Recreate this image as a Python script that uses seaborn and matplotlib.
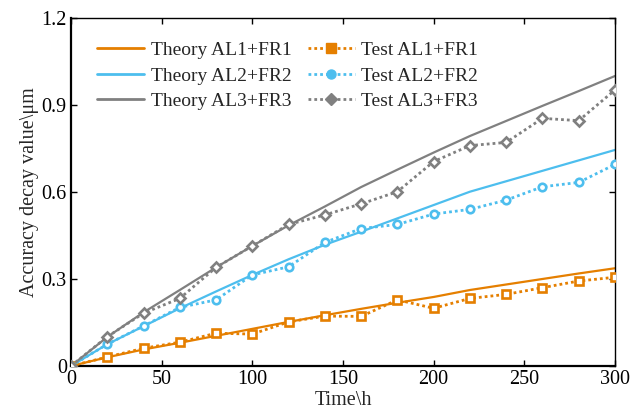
import matplotlib
matplotlib.use("Agg")
import matplotlib.pyplot as plt
from matplotlib.lines import Line2D
import seaborn as sns
import pandas as pd

time_h = [0, 20, 40, 60, 80, 100, 120, 140, 160, 180, 200, 220, 240, 260, 280, 300]

theory_1 = [0, 0.030, 0.057, 0.080, 0.104, 0.128, 0.152, 0.175, 0.197, 0.218, 0.238, 0.262, 0.281, 0.300, 0.319, 0.337]
theory_2 = [0, 0.075, 0.137, 0.199, 0.257, 0.314, 0.368, 0.418, 0.463, 0.509, 0.555, 0.601, 0.637, 0.673, 0.709, 0.745]
theory_3 = [0, 0.100, 0.185, 0.262, 0.340, 0.414, 0.485, 0.550, 0.617, 0.677, 0.736, 0.793, 0.845, 0.897, 0.948, 1.000]

test_1 = [0, 0.031, 0.061, 0.082, 0.113, 0.110, 0.152, 0.172, 0.171, 0.228, 0.199, 0.233, 0.247, 0.270, 0.293, 0.306]
test_2 = [0, 0.075, 0.138, 0.202, 0.228, 0.314, 0.342, 0.426, 0.474, 0.488, 0.524, 0.540, 0.572, 0.618, 0.633, 0.695]
test_3 = [0, 0.101, 0.182, 0.233, 0.340, 0.414, 0.488, 0.521, 0.559, 0.601, 0.705, 0.760, 0.771, 0.854, 0.846, 0.952]

theory_labels = ["Theory AL1+FR1", "Theory AL2+FR2", "Theory AL3+FR3"]
test_labels = ["Test AL1+FR1", "Test AL2+FR2", "Test AL3+FR3"]
colors = ["#E57F00", "#4DBEEE", "#808080"]
markers = ["s", "o", "D"]
marker_sizes = [5.2, 5.4, 4.6]

sns.set_theme(style="ticks")
plt.rcParams["font.family"] = ["Liberation Serif", "DejaVu Serif"]

fig = plt.figure(figsize=(6.41, 4.12), dpi=100)
ax = fig.add_axes([0.1108, 0.1117, 0.8486, 0.8446])

theories = [theory_1, theory_2, theory_3]
tests = [test_1, test_2, test_3]

for i in range(3):
    df = pd.DataFrame({"t": time_h, "v": theories[i]})
    sns.lineplot(data=df, x="t", y="v", ax=ax, color=colors[i], lw=1.6,
                 legend=False, zorder=2)
for i in range(3):
    df = pd.DataFrame({"t": time_h, "v": tests[i]})
    sns.lineplot(data=df, x="t", y="v", ax=ax, color=colors[i], lw=2.0,
                 linestyle=(0, (1, 1.1)), marker=markers[i], markersize=marker_sizes[i],
                 markerfacecolor="white", markeredgecolor=colors[i],
                 markeredgewidth=1.9, legend=False, zorder=3)

handles = []
for i in range(3):
    handles.append(Line2D([], [], color=colors[i], lw=2.0))
for i in range(3):
    handles.append(Line2D([], [], color=colors[i], lw=2.0, linestyle=(0, (1, 1.1)),
                          marker=markers[i], markersize=6.5,
                          markerfacecolor=colors[i], markeredgecolor=colors[i]))
ax.legend(handles, theory_labels + test_labels, ncol=2, frameon=False,
          loc="upper left", bbox_to_anchor=(0.048, 0.933), borderaxespad=0,
          borderpad=0, fontsize=14, handlelength=2.4, handletextpad=0.35,
          columnspacing=0.85, labelspacing=0.41)

ax.set_xlim(0, 300)
ax.set_ylim(0, 1.2)
ax.set_xticks([0, 50, 100, 150, 200, 250, 300])
ax.set_yticks([0, 0.3, 0.6, 0.9, 1.2])
ax.set_yticklabels(["0", "0.3", "0.6", "0.9", "1.2"])
ax.tick_params(direction="in", length=4, width=1, top=True, right=True,
               labelsize=14.5, colors="black", pad=3)
ax.set_xlabel("Time\\h", fontsize=14.5, labelpad=1)
ax.set_ylabel("Accuracy decay value\\μm", fontsize=14.5, labelpad=2)
for s in ["left", "bottom"]:
    ax.spines[s].set_linewidth(1.6)
    ax.spines[s].set_color("black")
for s in ["top", "right"]:
    ax.spines[s].set_linewidth(1.0)
    ax.spines[s].set_color("black")
    ax.spines[s].set_visible(True)

fig.savefig("out.png", dpi=100)
